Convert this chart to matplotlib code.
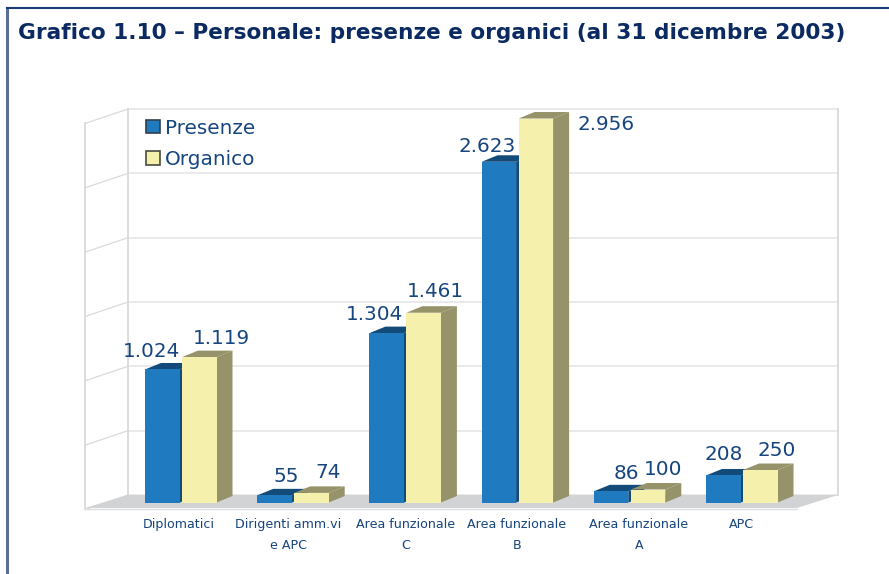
import matplotlib
matplotlib.use("Agg")
import matplotlib.pyplot as plt
from matplotlib.patches import Polygon, Patch

categories = ["Diplomatici", "Dirigenti amm.vi\ne APC", "Area funzionale\nC",
              "Area funzionale\nB", "Area funzionale\nA", "APC"]
presenze = [1024, 55, 1304, 2623, 86, 208]
organico = [1119, 74, 1461, 2956, 100, 250]
grid_values = [0, 500, 1000, 1500, 2000, 2500, 3000]
title = "Grafico 1.10 – Personale: presenze e organici (al 31 dicembre 2003)"

W, H = 889, 574
BLUE, BLUE_D = "#1f7abf", "#124a7a"
YEL, OLIVE = "#f5f0ab", "#96926a"
TXT = "#17457f"

# pixel geometry of the oblique projection
X0, DX = 182.0, 112.2      # first group centre, group spacing
Y0, K = 502.5, 0.1299      # baseline, pixels per unit
BW, DEPTH_X, DEPTH_Y = 34.5, 16.0, 6.5

fig = plt.figure(figsize=(W / 100, H / 100), dpi=100)
ax = fig.add_axes([0, 0, 1, 1])
ax.set_xlim((0 - X0) / DX, (W - X0) / DX)
ax.set_ylim((Y0 - H) / K, Y0 / K)
ax.axis("off")

ux = 1 / DX      # data units per pixel
uy = 1 / K

def px(x, y):
    return ((x - X0) / DX, (Y0 - y) / K)

# frame
ax.add_line(plt.Line2D(*zip(px(7, 8), px(7, 574)), color="#5a6e96", lw=2.2, zorder=1))
ax.add_line(plt.Line2D(*zip(px(7, 8), px(889, 8)), color="#1b3a78", lw=1.5, zorder=1))

# walls and floor
GRID_C, WALL_C = "#e6e6e6", "#dadada"
wall_base, wall_scale = 495.0, 386.0 / 3000
for v in grid_values:
    yb = wall_base - v * wall_scale
    yf = yb + 14.5
    ax.plot(*zip(px(128, yb), px(838, yb)), color=GRID_C, lw=1.2, zorder=1)
    ax.plot(*zip(px(85, yf), px(128, yb)), color=WALL_C, lw=0.9, zorder=1)
top = wall_base - 3000 * wall_scale
ax.plot(*zip(px(128, top), px(128, wall_base)), color=WALL_C, lw=1.3, zorder=1)
ax.plot(*zip(px(85, top + 14.5), px(85, 508.5)), color=WALL_C, lw=1.3, zorder=1)
ax.plot(*zip(px(838, top), px(838, wall_base)), color=WALL_C, lw=1.3, zorder=1)
ax.add_patch(Polygon([px(85, 508), px(797, 508), px(838, wall_base), px(128, wall_base)],
                     closed=True, fc="#d2d3d5", ec="none", zorder=2))
ax.plot(*zip(px(85, 508.5), px(797, 508.5)), color="#dedede", lw=1.0, zorder=2)

def bar3d(i, value, shift, front, side, topc, z):
    xl = i + shift * ux
    xr = xl + BW * ux
    dx, dy = DEPTH_X * ux, DEPTH_Y * uy
    ax.add_patch(Polygon([(xl, value), (xr, value), (xr + dx, value + dy), (xl + dx, value + dy)],
                         closed=True, fc=topc, ec="none", zorder=z))
    ax.add_patch(Polygon([(xr, 0), (xr + dx, dy), (xr + dx, value + dy), (xr, value)],
                         closed=True, fc=side, ec="none", zorder=z))
    ax.bar(xl, value, width=BW * ux, align="edge", color=front, zorder=z + 0.1, lw=0)

for i, (p, o) in enumerate(zip(presenze, organico)):
    bar3d(i, p, -37, BLUE, BLUE_D, BLUE_D, 3 + i * 0.01)
    bar3d(i, o, 0, YEL, OLIVE, OLIVE, 4 + i * 0.01)

def fmt(v):
    return f"{v:,}".replace(",", ".")

# label offsets in pixels from the bar's front-top centre
off_p = [-11, 11, -13, -12, 15, 0]
off_o = [22, 17, 12, 70, 15, 16]
rise_p = [18, 19, 19, 15, 18, 21]
rise_o = [19, 20, 21, -6, 20, 20]
for i in range(len(categories)):
    ax.annotate(fmt(presenze[i]), (i - 19.25 * ux, presenze[i]),
                xytext=(off_p[i] * 0.72, rise_p[i] * 0.72), textcoords="offset points",
                ha="center", va="center", fontsize=14.4, color=TXT, zorder=6)
    ax.annotate(fmt(organico[i]), (i + 17.25 * ux, organico[i]),
                xytext=(off_o[i] * 0.72, rise_o[i] * 0.72), textcoords="offset points",
                ha="center", va="center", fontsize=14.4, color=TXT, zorder=6)

# category labels
off_c = [-3, -6, -1, -2, 8, -2]
for i, c in enumerate(categories):
    ax.annotate(c, (i, 0), xytext=(off_c[i] * 0.72, -11.5), textcoords="offset points",
                ha="center", va="top", fontsize=9.05, color=TXT, linespacing=1.72, zorder=6)

fig.text(18 / W, 1 - 33 / H, title, fontsize=15.6, fontweight="bold", color="#0b2a62",
         ha="left", va="center")

leg = ax.legend(handles=[Patch(fc=BLUE, ec="#333f4f", lw=1.2, label="Presenze"),
                         Patch(fc=YEL, ec="#4a4a40", lw=1.2, label="Organico")],
                loc="upper left", bbox_to_anchor=(146 / W, 1 - 118.5 / H), frameon=False,
                fontsize=14.4, handlelength=0.68, handleheight=0.68, handletextpad=0.25,
                labelspacing=0.62, borderpad=0, borderaxespad=0, labelcolor=TXT)
leg.set_zorder(7)

fig.savefig("out.png", dpi=100)
